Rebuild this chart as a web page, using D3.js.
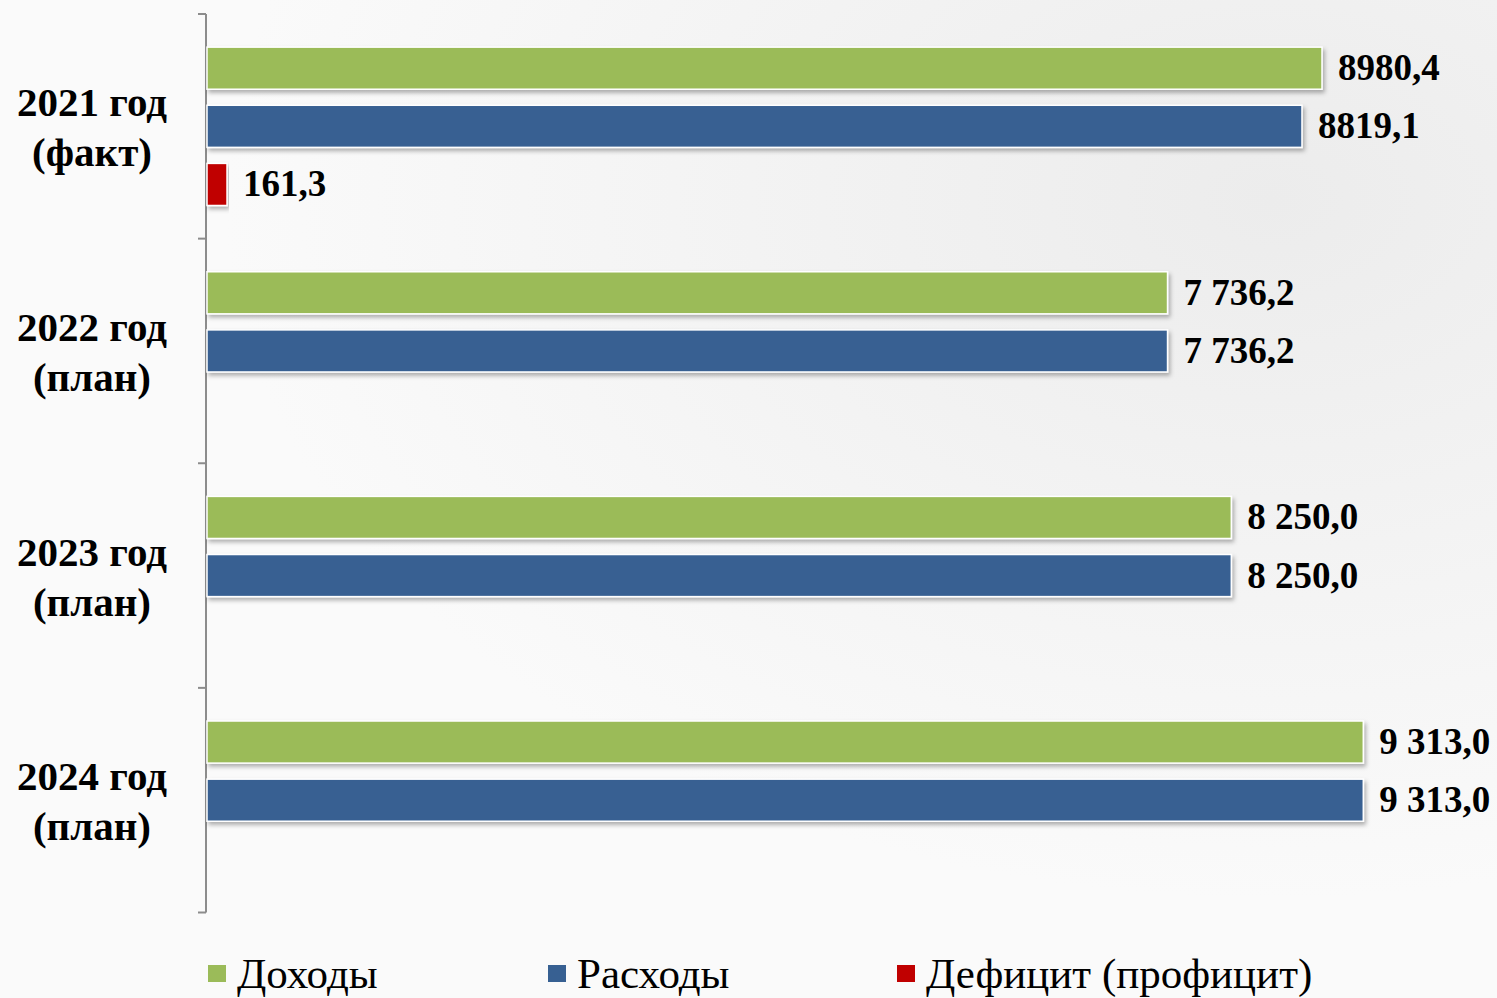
<!DOCTYPE html>
<html>
<head>
<meta charset="utf-8">
<script src="https://cdn.jsdelivr.net/npm/d3@7"></script>
<style>
  body { margin: 0; background: #fff; }
  svg { display: block; }
</style>
</head>
<body>
<div id="chart"></div>
<script>
// data
let categories = ["2021 год|(факт)", "2022 год|(план)", "2023 год|(план)", "2024 год|(план)"];
let seriesNames = ["Доходы", "Расходы", "Дефицит (профицит)"];
let income   = [8980.4, 7736.2, 8250.0, 9313.0];
let expenses = [8819.1, 7736.2, 8250.0, 9313.0];
let deficit  = [161.3, null, null, null];
let labelText = [
    ["8980,4", "7 736,2", "8 250,0", "9 313,0"],
    ["8819,1", "7 736,2", "8 250,0", "9 313,0"],
    ["161,3", "", "", ""]
];
let colors = ["#9bbb59", "#376092", "#c00000"];

let svgWidth = 1497;
let svgHeight = 998;

let margin = { top: 14, right: 60, bottom: 86, left: 207 };
let height = svgHeight - margin.top - margin.bottom;

let svg = d3.select("#chart")
    .append("svg")
    .attr("width", svgWidth)
    .attr("height", svgHeight);

// soft background
let defs = svg.append("defs");
let grad = defs.append("radialGradient")
    .attr("id", "bg")
    .attr("cx", "85%").attr("cy", "20%").attr("r", "70%");
grad.append("stop").attr("offset", "0%").attr("stop-color", "#ececec");
grad.append("stop").attr("offset", "100%").attr("stop-color", "#fafafa");

let shadow = defs.append("filter")
    .attr("id", "shadow")
    .attr("x", "-5%").attr("y", "-30%")
    .attr("width", "110%").attr("height", "180%");
shadow.append("feDropShadow")
    .attr("dx", 2).attr("dy", 3)
    .attr("stdDeviation", 2)
    .attr("flood-color", "#000")
    .attr("flood-opacity", 0.3);

svg.append("rect")
    .attr("width", svgWidth)
    .attr("height", svgHeight)
    .attr("fill", "url(#bg)");

// scales
let x = d3.scaleLinear()
    .domain([0, 8980.4])
    .range([margin.left, 1322]);

let y0 = d3.scaleBand()
    .domain(categories)
    .range([margin.top, margin.top + height + 0.5]);

let y1 = d3.scaleBand()
    .domain(seriesNames)
    .range([0, y0.bandwidth()])
    .paddingInner(0.276)
    .paddingOuter(0.57);

let table = categories.map((c, i) => ({
    cat: c,
    values: [income[i], expenses[i], deficit[i]]
}));

// axis line with ticks on band edges
let axis = svg.append("g").attr("stroke", "#8c8c8c").attr("stroke-width", 2);
axis.append("line")
    .attr("x1", margin.left - 1).attr("x2", margin.left - 1)
    .attr("y1", y0.range()[0]).attr("y2", y0.range()[1]);
let edges = categories.map(c => y0(c)).concat([y0.range()[1]]);
axis.selectAll(".tick")
    .data(edges)
    .enter()
    .append("line")
    .attr("x1", margin.left - 9).attr("x2", margin.left - 1)
    .attr("y1", d => d).attr("y2", d => d);

// bars
let groups = svg.selectAll(".cat")
    .data(table)
    .enter()
    .append("g")
    .attr("transform", d => `translate(0, ${y0(d.cat)})`);

groups.selectAll("rect")
    .data(d => d.values.map((v, j) => ({ v: v, j: j })).filter(e => e.v !== null))
    .enter()
    .append("rect")
    .attr("x", x(0))
    .attr("y", d => y1(seriesNames[d.j]))
    .attr("width", d => x(d.v) - x(0))
    .attr("height", y1.bandwidth())
    .attr("fill", d => colors[d.j])
    .attr("stroke", "#fff")
    .attr("stroke-width", 1.5)
    .attr("filter", "url(#shadow)");

// value labels
groups.each(function(d, i) {
    let g = d3.select(this);
    d.values.forEach((v, j) => {
        if (v === null) return;
        g.append("text")
            .attr("x", x(v) + 16)
            .attr("y", y1(seriesNames[j]) + y1.bandwidth() / 2 + 12)
            .attr("font-family", "'Liberation Serif', 'Times New Roman', serif")
            .attr("font-weight", "bold")
            .attr("font-size", 37)
            .attr("fill", "#000")
            .text(labelText[j][i]);
    });
});

// category labels
categories.forEach(c => {
    let parts = c.split("|");
    let cy = y0(c) + y0.bandwidth() / 2;
    let t = svg.append("text")
        .attr("text-anchor", "middle")
        .attr("font-family", "'Liberation Serif', 'Times New Roman', serif")
        .attr("font-weight", "bold")
        .attr("font-size", 41)
        .attr("fill", "#000");
    t.append("tspan").attr("x", 92).attr("y", cy - 10).text(parts[0]);
    t.append("tspan").attr("x", 92).attr("y", cy + 40).text(parts[1]);
});

// legend
let legendX = [208, 548, 897];
let legend = svg.selectAll(".legend")
    .data(seriesNames)
    .enter()
    .append("g")
    .attr("transform", (d, i) => `translate(${legendX[i]}, 0)`);

legend.append("rect")
    .attr("x", 0)
    .attr("y", 965)
    .attr("width", 18)
    .attr("height", 17)
    .attr("fill", (d, i) => colors[i]);

legend.append("text")
    .attr("x", 29)
    .attr("y", 988)
    .attr("font-family", "'Liberation Serif', 'Times New Roman', serif")
    .attr("font-size", 43)
    .attr("fill", "#000")
    .text(d => d);
</script>
</body>
</html>
